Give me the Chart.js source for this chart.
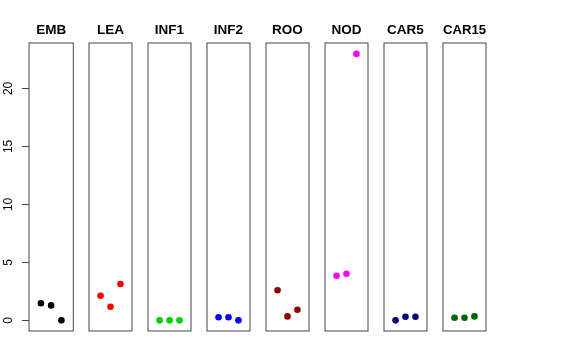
<!DOCTYPE html>
<html>
<head>
<meta charset="utf-8">
<script src="https://cdn.jsdelivr.net/npm/chart.js@4.4.1/dist/chart.umd.min.js"></script>
<style>
  body { margin: 0; background: #fff; }
  #fig { position: relative; width: 576px; height: 360px; }
  .panel { position: absolute; top: 0; height: 335px; }
</style>
</head>
<body>
<div id="fig"></div>
<script>
const categories = ['EMB', 'LEA', 'INF1', 'INF2', 'ROO', 'NOD', 'CAR5', 'CAR15'];
const replicates = [1, 2, 3];

const emb = [1.47, 1.29, 0];
const lea = [2.12, 1.17, 3.13];
const inf1 = [0, 0, 0];
const inf2 = [0.26, 0.26, 0];
const roo = [2.59, 0.34, 0.91];
const nod = [3.84, 4.02, 22.98];
const car5 = [0, 0.31, 0.31];
const car15 = [0.22, 0.22, 0.34];

const seriesValues = [emb, lea, inf1, inf2, roo, nod, car5, car15];
const colors = ['#000000', '#FF0000', '#00CD00', '#0000FF', '#8B0000', '#FF00FF', '#000080', '#006400'];
const yTicks = [0, 5, 10, 15, 20];

// R-style limits: xlim 0..4, ylim 0..23 with 4% padding
const xMin = -0.16, xMax = 4.16;
const yMin = -0.92, yMax = 23.92;

const firstLeft = 29, step = 59.14, boxWidth = 44.3;

const boxPlugin = {
  id: 'box',
  afterDraw(chart) {
    const { ctx, chartArea: a } = chart;
    ctx.save();
    ctx.strokeStyle = '#444';
    ctx.lineWidth = 1;
    ctx.strokeRect(a.left, a.top, a.right - a.left, a.bottom - a.top);
    ctx.restore();
  }
};

const fig = document.getElementById('fig');

categories.forEach((name, i) => {
  const boxLeft = firstLeft + step * i;
  const first = i === 0;
  const divLeft = first ? 0 : Math.floor(boxLeft) - 3;
  const divWidth = first ? 78 : 51;
  const padLeft = first ? 0 : boxLeft - divLeft;
  const padRight = divWidth - (boxLeft - divLeft) - boxWidth;

  const div = document.createElement('div');
  div.className = 'panel';
  div.style.left = divLeft + 'px';
  div.style.width = divWidth + 'px';
  const canvas = document.createElement('canvas');
  div.appendChild(canvas);
  fig.appendChild(div);

  const yScale = {
    type: 'linear',
    min: yMin,
    max: yMax,
    display: first,
  };
  if (first) {
    Object.assign(yScale, {
      afterBuildTicks: (s) => { s.ticks = yTicks.map((v) => ({ value: v })); },
      afterFit: (s) => { s.width = firstLeft; s.paddingTop = 0; s.paddingBottom = 0; },
      border: { display: false },
      grid: { drawOnChartArea: false, tickLength: 7, color: '#444' },
      ticks: {
        minRotation: 90,
        maxRotation: 90,
        crossAlign: 'center',
        padding: 7,
        color: '#000',
        font: { family: 'Liberation Sans', size: 12 },
      },
    });
  }

  new Chart(canvas.getContext('2d'), {
    type: 'scatter',
    data: {
      datasets: [{
        data: replicates.map((x, j) => ({ x: x, y: seriesValues[i][j] })),
        backgroundColor: colors[i],
        borderColor: colors[i],
        pointRadius: 3.3,
        pointBorderWidth: 0,
      }],
    },
    options: {
      responsive: true,
      maintainAspectRatio: false,
      animation: false,
      events: [],
      layout: { padding: { left: padLeft, right: padRight, top: 0, bottom: 4 } },
      scales: {
        x: { type: 'linear', min: xMin, max: xMax, display: false },
        y: yScale,
      },
      plugins: {
        legend: { display: false },
        tooltip: { enabled: false },
        title: {
          display: true,
          fullSize: false,
          text: name,
          color: '#000',
          font: { family: 'Liberation Sans', size: 13.5, weight: 'bold' },
          padding: { top: 22.5, bottom: 4.3 },
        },
      },
    },
    plugins: [boxPlugin],
  });
});
</script>
</body>
</html>
